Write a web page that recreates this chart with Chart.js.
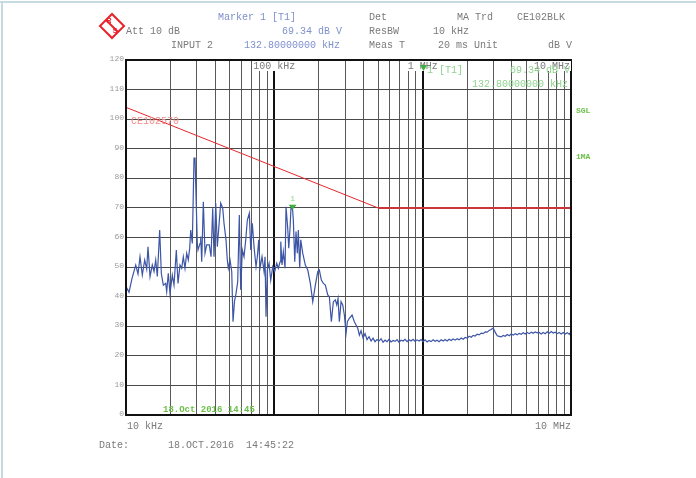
<!DOCTYPE html>
<html lang="en">
<head>
    <meta charset="UTF-8">
    <title>CE102 scan</title>
    <style>
        body {
            margin: 0;
            background: #fff;
        }
        #scan {
            display: block;
        }
    </style>
</head>
<body>
    <canvas id="scan" width="696" height="478"></canvas>

    <script src="https://cdn.jsdelivr.net/npm/chart.js"></script>
    <script>
        // grid / tick values
        const gridFreqs = [10, 20, 30, 40, 50, 60, 70, 80, 90,
            100, 200, 300, 400, 500, 600, 700, 800, 900,
            1000, 2000, 3000, 4000, 5000, 6000, 7000, 8000, 9000, 10000];
        const decadeLabels = [[100, "100 kHz"], [1000, "1 MHz"], [10000, "10 MHz"]];
        const yTicks = [0, 10, 20, 30, 40, 50, 60, 70, 80, 90, 100, 110, 120];

        // limit line CE102570 (kHz / dB V)
        const limitFreq = [10, 500, 10000];
        const limitLevel = [104, 70, 70];

        // marker 1
        const markerFreq = 132.8;
        const markerLevel = 69.34;

        // measured trace, frequency in kHz
        const traceFreq = [
            10.0, 10.48, 10.98, 11.63, 12.05, 12.43, 12.88, 13.37, 13.79, 14.07,
            14.52, 15.04, 15.45, 15.86, 16.26, 16.87, 17.30, 17.85, 18.52, 18.81,
            19.28, 19.80, 20.52, 21.07, 21.84, 22.42, 23.12, 23.74, 24.34, 24.99,
            25.66, 26.30, 26.88, 27.31, 27.99, 28.74, 29.19, 29.65, 30.25, 30.58,
            31.55, 31.89, 32.40, 33.21, 34.10, 35.01, 36.45, 37.43, 38.42, 39.21,
            40.26, 41.27, 43.50, 44.88, 45.78, 47.23, 48.20, 48.95, 50.26, 51.61,
            52.66, 53.90, 55.17, 56.65, 58.07, 59.34, 60.84, 62.47, 64.14, 65.76,
            67.82, 69.32, 71.06, 72.95, 75.26, 76.80, 78.48, 80.09, 82.62, 85.23,
            86.56, 87.90, 89.70, 92.11, 94.55, 97.54, 100.6, 103.8, 106.4, 109.3,
            110.5, 112.7, 115.0, 118.1, 119.9, 123.1, 125.1, 127.6, 129.6, 132.8,
            134.3, 137.3, 140.0, 142.9, 145.1, 148.3, 150.7, 155.4, 161.8, 168.0,
            174.9, 181.5, 189.0, 196.2, 201.1, 207.5, 214.0, 220.8, 229.1, 234.9,
            242.3, 250.0, 257.8, 263.5, 268.8, 274.3, 281.7, 289.2, 296.5, 304.4,
            310.6, 320.4, 334.1, 346.3, 355.6, 365.1, 374.3,
            384.2, 396.3, 408.8, 421.7, 435.0, 448.8, 462.9, 477.5, 492.6, 508.2,
            524.2, 540.7, 557.8, 575.4, 593.6, 612.3, 631.6, 651.6, 672.1, 693.3,
            715.2, 737.8, 761.1, 785.1, 809.9, 835.4, 861.8, 889.0, 917.1, 946.0,
            975.9, 1007, 1038, 1071, 1105, 1140, 1176, 1213, 1251, 1291,
            1332, 1374, 1417, 1462, 1508, 1556, 1605, 1655, 1708, 1762,
            1817, 1875, 1934, 1995, 2058, 2123, 2190, 2259, 2330, 2404,
            2480, 2558, 2639, 2722, 2808, 2896, 2988, 3082, 3179, 3280,
            3383, 3490, 3600, 3714, 3831, 3952, 4077, 4205, 4338, 4475,
            4616, 4762, 4912, 5067, 5227, 5392, 5562, 5738, 5919, 6105,
            6298, 6497, 6702, 6913, 7131, 7356, 7588, 7828, 8075, 8330,
            8593, 8864, 9144, 9432, 9730, 9880, 10000
        ];
        const traceLevel = [
            43.4, 41.5, 46.2, 50.7, 47.7, 53.5, 47.3, 52.4, 49.3, 56.9,
            46.8, 50.7, 48.5, 52.4, 46.8, 62.5, 47.9, 43.9, 44.5, 41.7,
            47.9, 41.1, 47.3, 43.9, 55.8, 44.5, 50.7, 49.6, 53.5, 49.6,
            54.7, 52.4, 56.4, 62.5, 58.0, 86.8, 86.8, 74.4, 58.0, 55.8,
            58.0, 60.3, 51.8, 72.1, 54.7, 57.5, 57.5, 53.5, 69.9, 53.5,
            71.6, 56.9, 71.6, 69.9, 64.8, 59.2, 52.4, 49.6, 52.4, 48.5,
            31.5, 38.5, 41.0, 45.1, 67.6, 42.3, 55.8, 53.5, 59.2, 65.9,
            68.2, 55.8, 64.8, 56.9, 50.1, 53.5, 59.2, 49.6, 53.5, 48.5,
            53.5, 33.2, 49.0, 51.3, 45.6, 50.1, 48.5, 51.3, 49.6, 51.8,
            58.6, 50.7, 55.2, 49.6, 70.4, 63.1, 56.4, 63.1, 70.4, 69.34,
            65.9, 51.8, 62.0, 54.7, 62.5, 49.6, 59.2, 54.7, 50.7, 49.0,
            44.5, 38.3, 43.9, 48.5, 49.0, 45.6, 44.5, 43.9, 40.6, 40.0,
            31.5, 38.3, 38.9, 37.2, 39.4, 31.5, 38.3, 37.2, 33.8, 27.6,
            31.5, 32.7, 33.8, 31.5, 30.4, 29.3, 27.0,
            28.5, 26.0, 27.5, 25.5, 26.5, 25.0, 26.0, 24.8, 25.5, 25.0,
            25.8, 24.6, 25.3, 24.8, 25.6, 24.7, 25.2, 24.9, 25.5, 24.6,
            25.3, 25.0, 25.6, 24.8, 25.4, 25.0, 25.6, 24.9, 25.4, 25.0,
            25.5, 24.8, 25.4, 24.7, 25.2, 24.8, 25.4, 24.9, 25.3, 24.8,
            25.4, 25.0, 25.5, 25.0, 25.6, 25.2, 25.7, 25.3, 25.8, 25.4,
            26.0, 25.6, 26.2, 26.0, 26.6, 26.3, 26.9, 26.7, 27.3, 27.1,
            27.7, 27.5, 28.1, 28.0, 28.6, 28.9, 29.4, 28.0, 26.8, 26.6,
            26.4, 26.9, 26.6, 27.2, 26.8, 27.4, 27.0, 27.5, 27.1, 27.6,
            27.3, 27.8, 27.4, 27.9, 27.5, 28.0, 27.6, 28.1, 27.8, 27.9,
            27.4, 27.9, 27.5, 28.1, 27.6, 28.2, 27.7, 28.0, 27.5, 27.9,
            27.4, 27.9, 27.4, 27.8, 27.3, 27.7, 25.2
        ];

        const MONO = "'Liberation Mono', 'DejaVu Sans Mono', monospace";
        const GREY = "#7a7a7a";
        const BLUE_TXT = "#7f90cc";
        const GREEN_TXT = "#8fd38f";
        const GREEN = "#6cc04a";

        function isDecade(v) {
            return v === 100 || v === 1000;
        }

        function txt(ctx, s, x, y, color, font, align) {
            ctx.font = font || ("10px " + MONO);
            ctx.fillStyle = color || GREY;
            ctx.textAlign = align || "left";
            ctx.textBaseline = "middle";
            ctx.fillText(s, x, y);
        }

        // page frame, logo, header and all the analyzer texts
        const analyzerText = {
            id: "analyzerText",
            beforeDraw(chart) {
                const ctx = chart.ctx;
                ctx.save();
                ctx.fillStyle = "#fff";
                ctx.fillRect(0, 0, chart.width, chart.height);
                ctx.strokeStyle = "#c6dae1";
                ctx.lineWidth = 2;
                ctx.beginPath();
                ctx.moveTo(0, 2);
                ctx.lineTo(chart.width, 2);
                ctx.moveTo(2, 2);
                ctx.lineTo(2, chart.height);
                ctx.stroke();
                ctx.restore();
            },
            afterDraw(chart) {
                const ctx = chart.ctx;
                const area = chart.chartArea;
                const xs = chart.scales.x;
                const ys = chart.scales.y;
                ctx.save();

                // plot frame
                ctx.strokeStyle = "#111";
                ctx.lineWidth = 2;
                ctx.strokeRect(area.left, area.top, area.right - area.left, area.bottom - area.top);

                // R&S logo
                ctx.save();
                ctx.translate(112, 26);
                ctx.rotate(Math.PI / 4);
                ctx.strokeStyle = "#e8232b";
                ctx.lineWidth = 2;
                ctx.strokeRect(-8.5, -8.5, 17, 17);
                ctx.fillStyle = "#e8232b";
                ctx.fillRect(-8.5, -1, 17, 2);
                ctx.restore();
                txt(ctx, "R", 109, 21, "#e8232b", "bold 7px 'Liberation Sans'", "center");
                txt(ctx, "S", 115, 31, "#e8232b", "bold 7px 'Liberation Sans'", "center");

                // header
                txt(ctx, "Att 10 dB", 126, 31);
                txt(ctx, "Marker 1 [T1]", 218, 17, BLUE_TXT);
                txt(ctx, "69.34 dB V", 282, 31, BLUE_TXT);
                txt(ctx, "INPUT 2", 171, 45);
                txt(ctx, "132.80000000 kHz", 244, 45, BLUE_TXT);
                txt(ctx, "Det", 369, 17);
                txt(ctx, "ResBW", 369, 31);
                txt(ctx, "Meas T", 369, 45);
                txt(ctx, "MA Trd", 457, 17);
                txt(ctx, "CE102BLK", 517, 17);
                txt(ctx, "10 kHz", 433, 31);
                txt(ctx, "20 ms Unit", 438, 45);
                txt(ctx, "dB V", 548, 45);

                // y tick labels
                yTicks.forEach(v => {
                    txt(ctx, String(v), area.left - 2, ys.getPixelForValue(v) - 1, "#9a9a9a", "8px " + MONO, "right");
                });

                // decade labels at the top of the grid
                ctx.font = "10px " + MONO;
                decadeLabels.forEach(([f, s]) => {
                    const w = ctx.measureText(s).width;
                    let x = xs.getPixelForValue(f) - w / 2;
                    x = Math.min(x, area.right - w - 1);
                    ctx.fillStyle = "#fff";
                    ctx.fillRect(x - 1, area.top + 1, w + 2, 10);
                    txt(ctx, s, x, area.top + 6);
                });

                // marker readout inside the grid
                const mx = xs.getPixelForValue(markerFreq);
                const my = ys.getPixelForValue(markerLevel);
                ctx.fillStyle = "#3fae3f";
                ctx.beginPath();
                ctx.moveTo(mx - 4, my - 5);
                ctx.lineTo(mx + 4, my - 5);
                ctx.lineTo(mx, my);
                ctx.closePath();
                ctx.fill();
                txt(ctx, "1", mx, my - 11, GREEN_TXT, "8px " + MONO, "center");

                ctx.fillStyle = "#3fae3f";
                ctx.beginPath();
                ctx.moveTo(420, 65);
                ctx.lineTo(427, 65);
                ctx.lineTo(423.5, 71);
                ctx.closePath();
                ctx.fill();
                txt(ctx, "1 [T1]", 427, 70, GREEN_TXT);
                txt(ctx, "69.34 dB V", 510, 70, GREEN_TXT);
                txt(ctx, "132.80000000 kHz", 472, 84, GREEN_TXT);

                // limit line name
                txt(ctx, "CE102570", 131, 121, "#f28b8b");

                // side labels
                txt(ctx, "SGL", 576, 111, GREEN, "bold 8px " + MONO);
                txt(ctx, "1MA", 576, 157, GREEN, "bold 8px " + MONO);

                // bottom
                txt(ctx, "18.Oct 2016 14:45", 163, 410, GREEN, "bold 9px " + MONO);
                txt(ctx, "10 kHz", 127, 426);
                txt(ctx, "10 MHz", 535, 426);
                txt(ctx, "Date:", 99, 445);
                txt(ctx, "18.OCT.2016  14:45:22", 168, 445);

                ctx.restore();
            }
        };

        const ctx = document.getElementById("scan").getContext("2d");
        new Chart(ctx, {
            type: "line",
            data: {
                datasets: [
                    {
                        label: "CE102570",
                        data: limitFreq.map((f, i) => ({ x: f, y: limitLevel[i] })),
                        borderColor: "#e8262b",
                        borderWidth: 1,
                        segment: {
                            borderWidth: c => c.p0DataIndex === 0 ? 1 : 2,
                            borderColor: c => c.p0DataIndex === 0 ? "#e8262b" : "#c9363a"
                        },
                        pointRadius: 0,
                        fill: false
                    },
                    {
                        label: "Trace 1",
                        data: traceFreq.map((f, i) => ({ x: f, y: traceLevel[i] })),
                        borderColor: "#3d55a6",
                        borderWidth: 1.2,
                        pointRadius: 0,
                        tension: 0,
                        fill: false
                    }
                ]
            },
            options: {
                responsive: false,
                animation: false,
                devicePixelRatio: 1,
                layout: {
                    padding: { left: 126, top: 60, right: 125, bottom: 63 }
                },
                plugins: {
                    legend: { display: false },
                    tooltip: { enabled: false }
                },
                scales: {
                    x: {
                        type: "logarithmic",
                        min: 10,
                        max: 10000,
                        afterBuildTicks: axis => {
                            axis.ticks = gridFreqs.map(v => ({ value: v }));
                        },
                        ticks: { display: false },
                        border: { display: false },
                        grid: {
                            drawTicks: false,
                            color: c => isDecade(c.tick.value) ? "#111" : "#5a5a5a",
                            lineWidth: c => isDecade(c.tick.value) ? 2 : 1
                        }
                    },
                    y: {
                        min: 0,
                        max: 120,
                        afterBuildTicks: axis => {
                            axis.ticks = yTicks.map(v => ({ value: v }));
                        },
                        ticks: { display: false },
                        border: { display: false },
                        grid: {
                            drawTicks: false,
                            color: "#4a4a4a",
                            lineWidth: 1
                        }
                    }
                }
            },
            plugins: [analyzerText]
        });
    </script>
</body>
</html>
